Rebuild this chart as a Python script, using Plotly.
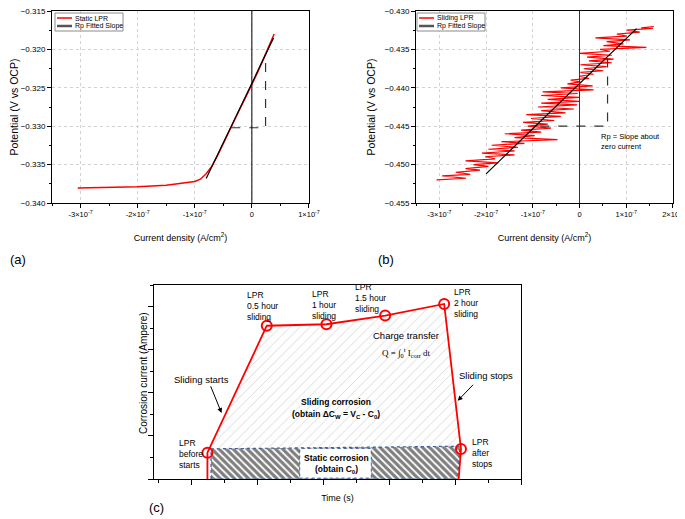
import numpy as np
import plotly.graph_objects as go

# (a) static LPR - current in units of 1e-7 A/cm2, potential in V vs OCP
static_i = [-3.05, -2.5, -2.0, -1.5, -1.2, -1.0, -0.9, -0.8, -0.75, -0.7, -0.6,
            -0.5, -0.4, -0.3, -0.2, -0.1, 0.0, 0.1, 0.2, 0.3, 0.39]
static_e = [-0.33806, -0.33800, -0.33790, -0.33770, -0.33745, -0.33720, -0.33690,
            -0.33620, -0.33570, -0.33520, -0.33380, -0.33220, -0.33060, -0.32910,
            -0.32760, -0.32610, -0.32460, -0.32300, -0.32130, -0.31960, -0.31800]
static_fit_i = [-0.80, 0.38]
static_fit_e = [-0.3368, -0.3185]
static_dash_i = [-0.36, 0.24, 0.24]
static_dash_e = [-0.3302, -0.3302, -0.3209]
static_yticks = [-0.340, -0.335, -0.330, -0.325, -0.320, -0.315]

# (b) sliding LPR (zig-zag)
sliding_i = [-3.06, -2.43, -2.94, -2.34, -2.65, -2.13, -2.44, -1.95, -2.27, -1.74,
             -2.44, -1.81, -2.02, -1.39, -2.09, -1.39, -1.95, -1.32, -1.88, -1.18,
             -1.67, -0.47, -1.39, -0.96, -1.60, -0.82, -1.25, -0.61, -1.11, -0.68,
             -1.21, -0.54, -1.04, -0.40, -1.14, -0.30, -0.82, -0.12, -0.89, -0.05,
             -0.82, -0.01, -0.68, -0.01, -0.82, -0.04, -0.79, 0.30, -0.40, 0.28,
             -0.26, 0.02, -0.19, 0.20, -0.01, 0.30, 0.02, 0.51, 0.09, 0.58,
             0.02, 0.69, 0.20, 0.73, 0.16, 0.69, 0.00, 0.65, 0.44, 1.43,
             0.51, 0.94, 0.58, 1.08, 0.34, 1.01, 0.80, 1.29, 1.01, 1.57,
             1.32, 1.59]
sliding_e = [-0.45200, -0.45178, -0.45148, -0.45126, -0.45100, -0.45072, -0.45052, -0.45024,
             -0.45000, -0.44978, -0.44952, -0.44926, -0.44898, -0.44874, -0.44850, -0.44822,
             -0.44800, -0.44776, -0.44748, -0.44724, -0.44702, -0.44676, -0.44650, -0.44624,
             -0.44598, -0.44576, -0.44552, -0.44524, -0.44500, -0.44474, -0.44450, -0.44426,
             -0.44400, -0.44372, -0.44350, -0.44326, -0.44298, -0.44276, -0.44250, -0.44222,
             -0.44200, -0.44176, -0.44152, -0.44124, -0.44100, -0.44074, -0.44052, -0.44026,
             -0.44000, -0.43976, -0.43948, -0.43924, -0.43900, -0.43876, -0.43850, -0.43824,
             -0.43800, -0.43778, -0.43752, -0.43724, -0.43700, -0.43674, -0.43650, -0.43626,
             -0.43600, -0.43576, -0.43552, -0.43524, -0.43500, -0.43474, -0.43450, -0.43428,
             -0.43400, -0.43376, -0.43350, -0.43326, -0.43300, -0.43274, -0.43250, -0.43226,
             -0.43218, -0.43202]
sliding_fit_i = [-2.0, 1.22]
sliding_fit_e = [-0.4512, -0.4323]
sliding_dash_i = [-0.84, 0.60, 0.60]
sliding_dash_e = [-0.4450, -0.4450, -0.4360]
sliding_yticks = [-0.455, -0.450, -0.445, -0.440, -0.435, -0.430]

# (c) schematic, arbitrary time / current units
lpr_t = [1.49, 1.49, 3.29, 5.10, 6.88, 8.67, 9.18, 9.11]
lpr_c = [0.0, 1.22, 7.11, 7.18, 7.58, 8.12, 1.39, 0.0]
static_t = [1.60, 1.60, 9.15, 9.08, 1.60]
static_c = [0.0, 1.40, 1.52, 0.0, 0.0]

E7 = 1e-7
xa_vals = [-3, -2, -1, 0, 1]
xb_vals = [-3, -2, -1, 0, 1, 2]

# page has an 8px body margin; positions below are given in window pixels
W, H = 690, 511
OFF = 8


def px(x):
    return (x - OFF) / W


def py(y):
    return 1 - (y - OFF) / H


def sci(v):
    return "0" if v == 0 else "%d×10<sup>-7</sup>" % v


FONT = "Liberation Sans, Arial, sans-serif"
RED = "#ff0000"

fig = go.Figure()

# ---- (a)
fig.add_trace(go.Scatter(x=np.array(static_i) * E7, y=static_e, mode="lines",
                         line=dict(color=RED, width=1.5), name="Static LPR",
                         xaxis="x", yaxis="y"))
fig.add_trace(go.Scatter(x=np.array(static_fit_i) * E7, y=static_fit_e, mode="lines",
                         line=dict(color="black", width=1.2), name="Rp Fitted Slope",
                         xaxis="x", yaxis="y"))
fig.add_trace(go.Scatter(x=np.array(static_dash_i) * E7, y=static_dash_e, mode="lines",
                         line=dict(color="#333333", width=1.2, dash="dash"),
                         xaxis="x", yaxis="y"))

# ---- (b)
fig.add_trace(go.Scatter(x=np.array(sliding_i) * E7, y=sliding_e, mode="lines",
                         line=dict(color=RED, width=1.2), name="Sliding LPR",
                         xaxis="x2", yaxis="y2"))
fig.add_trace(go.Scatter(x=np.array(sliding_fit_i) * E7, y=sliding_fit_e, mode="lines",
                         line=dict(color="black", width=1.2), name="Rp Fitted Slope",
                         xaxis="x2", yaxis="y2"))
fig.add_trace(go.Scatter(x=np.array(sliding_dash_i) * E7, y=sliding_dash_e, mode="lines",
                         line=dict(color="#333333", width=1.2, dash="dash"),
                         xaxis="x2", yaxis="y2"))

# ---- (c)
slide_t = lpr_t[1:6] + [static_t[2], static_t[1]]
slide_c = lpr_c[1:6] + [static_c[2], static_c[1]]
fig.add_trace(go.Scatter(x=slide_t, y=slide_c, mode="lines", fill="toself",
                         line=dict(width=0), fillcolor="white",
                         fillpattern=dict(shape="/", fgcolor="#a8a8a8", bgcolor="white",
                                          size=7, solidity=0.12),
                         xaxis="x3", yaxis="y3"))
fig.add_trace(go.Scatter(x=static_t, y=static_c, mode="lines", fill="toself",
                         line=dict(color="#3d5c99", width=1.2, dash="dot"),
                         fillcolor="white",
                         fillpattern=dict(shape="\\", fgcolor="black", bgcolor="white",
                                          size=5, solidity=0.65),
                         xaxis="x3", yaxis="y3"))
fig.add_trace(go.Scatter(x=lpr_t, y=lpr_c, mode="lines",
                         line=dict(color=RED, width=1.8),
                         xaxis="x3", yaxis="y3"))
fig.add_trace(go.Scatter(x=lpr_t[1:7], y=lpr_c[1:7], mode="markers",
                         marker=dict(symbol="circle-open", size=10, color=RED,
                                     line=dict(width=2, color=RED)),
                         xaxis="x3", yaxis="y3"))

tickfont = dict(family=FONT, size=8, color="black")
xtickfont = dict(family=FONT, size=7.5, color="black")
titlefont = dict(family=FONT, size=9, color="black")
ytitlefont = dict(family=FONT, size=10.5, color="black")
grid = dict(showgrid=True, gridcolor="#d2d2d2", griddash="dot", gridwidth=1)
frame = dict(showline=True, linecolor="black", linewidth=1, mirror=True,
             ticks="outside", ticklen=4, tickcolor="black", zeroline=False,
             tickfont=tickfont, automargin=False, ticklabeloverflow="allow")
top_dom = [py(203), py(11)]

fig.update_layout(
    width=W, height=H, margin=dict(l=0, r=0, t=0, b=0),
    paper_bgcolor="white", plot_bgcolor="white",
    font=dict(family=FONT, size=8, color="black"),
    hovermode=False, showlegend=False,
    xaxis=dict(domain=[px(52), px(309)], range=[-3.5e-7, 1.0005e-7], anchor="y",
               tickmode="array", tickvals=[v * E7 for v in xa_vals],
               ticktext=[sci(v) for v in xa_vals],
               minor=dict(ticks="outside", ticklen=2, dtick=0.5e-7, tick0=0,
                          showgrid=False),
               title=dict(text="Current density (A/cm<sup>2</sup>)", font=titlefont,
                          standoff=16),
               **grid, **{**frame, "tickfont": xtickfont}),
    yaxis=dict(domain=top_dom, range=[-0.340, -0.315], anchor="x",
               tickmode="array", tickvals=static_yticks, tickformat=".3f",
               minor=dict(ticks="outside", ticklen=2, dtick=0.0025, showgrid=False),
               title=dict(text="Potential (V vs OCP)", font=ytitlefont, standoff=7),
               **grid, **frame),
    xaxis2=dict(domain=[px(416), px(673)], range=[-3.5e-7, 2.0005e-7], anchor="y2",
                tickmode="array", tickvals=[v * E7 for v in xb_vals],
                ticktext=[sci(v) for v in xb_vals],
                minor=dict(ticks="outside", ticklen=2, dtick=0.5e-7, tick0=0,
                           showgrid=False),
                title=dict(text="Current density (A/cm<sup>2</sup>)", font=titlefont,
                           standoff=16),
                **grid, **{**frame, "tickfont": xtickfont}),
    yaxis2=dict(domain=top_dom, range=[-0.455, -0.430], anchor="x2",
                tickmode="array", tickvals=sliding_yticks, tickformat=".3f",
                minor=dict(ticks="outside", ticklen=2, dtick=0.0025, showgrid=False),
                title=dict(text="Potential (V vs OCP)", font=ytitlefont, standoff=7),
                **grid, **frame),
    xaxis3=dict(domain=[px(154), px(521)], range=[-0.13, 11], anchor="y3",
                tick0=1, dtick=2, showticklabels=False, showgrid=False,
                minor=dict(ticks="outside", ticklen=3, dtick=1, tick0=0),
                title=dict(text="Time (s)", font=titlefont, standoff=10),
                **{**frame, "ticklen": 5}),
    yaxis3=dict(domain=[py(479), py(285)], range=[0, 9], anchor="x3",
                tick0=0, dtick=2, showticklabels=False, showgrid=False,
                minor=dict(ticks="outside", ticklen=3, dtick=1, tick0=1),
                **{**frame, "ticklen": 5}),
)

# vertical zero-current lines
fig.add_shape(type="line", xref="x", yref="y domain", x0=0, x1=0, y0=0, y1=1,
              line=dict(color="black", width=1))
fig.add_shape(type="line", xref="x2", yref="y2 domain", x0=0, x1=0, y0=0, y1=1,
              line=dict(color="#333333", width=1))
# white label box over the static corrosion hatch
fig.add_shape(type="rect", xref="x3", yref="y3", x0=4.29, x1=6.46, y0=0.04, y1=1.42,
              fillcolor="white", line=dict(color="#3d5c99", width=1, dash="dot"))

ann = []
# small boxed legends, drawn by hand so they stay as compact as the original
for left, names in ((55, ["Static LPR", "Rp Fitted Slope"]),
                    (417, ["Sliding LPR", "Rp Fitted Slope"])):
    width = 68
    fig.add_shape(type="rect", xref="paper", yref="paper",
                  x0=px(left), x1=px(left + width), y0=py(31), y1=py(13),
                  fillcolor="white", line=dict(color="#8c8c8c", width=1))
    for k, (name, col, lw) in enumerate(zip(names, [RED, "#555555"], [1.5, 2.5])):
        yy = py(18 + 8 * k)
        fig.add_shape(type="line", xref="paper", yref="paper",
                      x0=px(left + 2), x1=px(left + 17), y0=yy, y1=yy,
                      line=dict(color=col, width=lw))
        ann.append(dict(xref="paper", yref="paper", x=px(left + 18), y=yy,
                        xanchor="left", yanchor="middle", text=name, showarrow=False,
                        font=dict(family=FONT, size=7)))

ann.append(dict(xref="x2", yref="y2", x=0.42e-7, y=-0.4455, xanchor="left", yanchor="top",
                align="left", text="Rp = Slope about<br>zero current", showarrow=False,
                font=dict(family=FONT, size=7.5)))

lab = dict(xref="x3", yref="y3", showarrow=False, align="left", xanchor="left",
           font=dict(family=FONT, size=8.5))
ann += [
    dict(x=2.63, y=8.04, text="LPR<br>0.5 hour<br>sliding", **lab),
    dict(x=4.59, y=8.07, text="LPR<br>1 hour<br>sliding", **lab),
    dict(x=5.90, y=8.40, text="LPR<br>1.5 hour<br>sliding", **lab),
    dict(x=8.90, y=8.15, text="LPR<br>2 hour<br>sliding", **lab),
    dict(x=0.56, y=1.16, text="LPR<br>before<br>starts", **lab),
    dict(x=9.44, y=1.20, text="LPR<br>after<br>stops", **lab),
]
big = dict(family=FONT, size=9.5)
ann += [
    dict(xref="x3", yref="y3", x=1.30, y=4.62, text="Sliding starts", showarrow=False, font=big),
    dict(xref="x3", yref="y3", x=9.94, y=4.80, text="Sliding stops", showarrow=False, font=big),
    dict(xref="x3", yref="y3", x=7.52, y=6.68, text="Charge transfer", showarrow=False, font=big),
    dict(xref="x3", yref="y3", x=7.52, y=5.85,
         text="Q = ∫<sub>0</sub><sup>t</sup> I<sub>corr</sub> dt", showarrow=False,
         font=dict(family="Liberation Serif, serif", size=9)),
    dict(xref="x3", yref="y3", x=5.40, y=3.55, text="<b>Sliding corrosion</b>",
         showarrow=False, font=dict(family=FONT, size=8.5)),
    dict(xref="x3", yref="y3", x=5.40, y=2.98,
         text="<b>(obtain ΔC<sub>W</sub> = V<sub>C</sub> - C<sub>0</sub>)</b>",
         showarrow=False, font=dict(family=FONT, size=8.5)),
    dict(xref="x3", yref="y3", x=5.40, y=0.97, text="<b>Static corrosion</b>",
         showarrow=False, font=dict(family=FONT, size=8.5)),
    dict(xref="x3", yref="y3", x=5.40, y=0.45, text="<b>(obtain C<sub>0</sub>)</b>",
         showarrow=False, font=dict(family=FONT, size=8.5)),
    # y title of (c), sits right against the tick marks
    dict(xref="paper", yref="paper", x=px(143), y=py(373), textangle=-90,
         xanchor="center", yanchor="middle", text="Corrosion current (Ampere)",
         showarrow=False, font=dict(family=FONT, size=10)),
    # arrows
    dict(xref="x3", yref="y3", axref="x3", ayref="y3", x=1.92, y=3.06, ax=1.57, ay=4.37,
         text="", showarrow=True, arrowhead=2, arrowsize=1, arrowwidth=1, arrowcolor="black"),
    dict(xref="x3", yref="y3", axref="x3", ayref="y3", x=9.08, y=3.63, ax=9.59, ay=4.44,
         text="", showarrow=True, arrowhead=2, arrowsize=1, arrowwidth=1, arrowcolor="black"),
    # panel letters
    dict(xref="paper", yref="paper", x=0.0, y=py(259), xanchor="left", yanchor="middle",
         text="(a)", showarrow=False, font=dict(family=FONT, size=13)),
    dict(xref="paper", yref="paper", x=px(376), y=py(259), xanchor="left", yanchor="middle",
         text="(b)", showarrow=False, font=dict(family=FONT, size=13)),
    dict(xref="paper", yref="paper", x=px(147), y=py(507), xanchor="left", yanchor="middle",
         text="(c)", showarrow=False, font=dict(family=FONT, size=13)),
]
fig.update_layout(annotations=ann)

fig.write_html("out.html")
